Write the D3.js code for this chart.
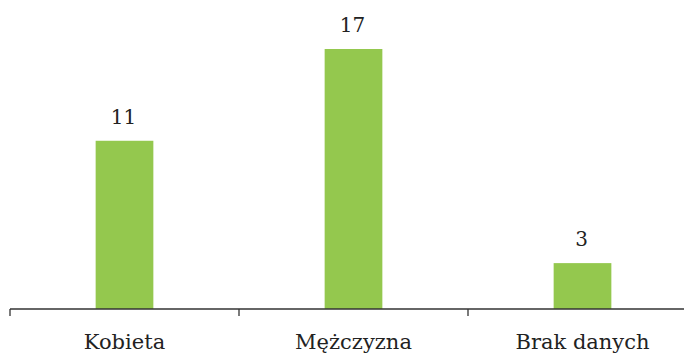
<!DOCTYPE html>
<html>
<head>
<meta charset="utf-8">
<script src="https://cdn.jsdelivr.net/npm/d3@7"></script>
<style>
  body { margin: 0; background: #fff; }
  svg text { font-family: "DejaVu Serif", serif; fill: #222; }
</style>
</head>
<body>
<div id="chart"></div>
<script>
const categories = ['Kobieta', 'Mężczyzna', 'Brak danych'];
const values = [11, 17, 3];

const width = 685;
const height = 353;
const baseline = 309;

const svg = d3.select('#chart')
    .append('svg')
    .attr('width', width)
    .attr('height', height);

const xScale = d3.scaleBand()
    .domain(categories)
    .range([10, 697])
    .paddingInner(0.748)
    .paddingOuter(0.374);

const yScale = d3.scaleLinear()
    .domain([0, 17])
    .range([baseline, 49]);

const data = categories.map((c, i) => ({ name: c, value: values[i] }));

// bars
svg.selectAll('rect.bar')
    .data(data)
    .enter()
    .append('rect')
    .attr('class', 'bar')
    .attr('x', d => xScale(d.name))
    .attr('y', d => yScale(d.value))
    .attr('width', xScale.bandwidth())
    .attr('height', d => baseline - yScale(d.value))
    .attr('fill', '#94c84e');

// value labels
svg.selectAll('text.value')
    .data(data)
    .enter()
    .append('text')
    .attr('class', 'value')
    .attr('x', d => xScale(d.name) + xScale.bandwidth() / 2 - 1)
    .attr('y', d => yScale(d.value) - 17)
    .attr('text-anchor', 'middle')
    .style('font-size', '20px')
    .text(d => d.value);

// axis line
svg.append('line')
    .attr('x1', 10)
    .attr('x2', 684)
    .attr('y1', baseline)
    .attr('y2', baseline)
    .attr('stroke', '#333')
    .attr('stroke-width', 1.5);

// boundary ticks
const gap = (xScale.step() - xScale.bandwidth()) / 2;
svg.selectAll('line.tick')
    .data(categories)
    .enter()
    .append('line')
    .attr('class', 'tick')
    .attr('x1', d => xScale(d) - gap)
    .attr('x2', d => xScale(d) - gap)
    .attr('y1', baseline)
    .attr('y2', baseline + 7)
    .attr('stroke', '#333')
    .attr('stroke-width', 1.3);

// category labels
const xAxis = d3.axisBottom(xScale).tickSize(0).tickPadding(0);
const axisG = svg.append('g')
    .attr('transform', 'translate(0,' + baseline + ')')
    .attr('font-family', '"DejaVu Serif", serif')
    .call(xAxis);
axisG.select('.domain').remove();
axisG.selectAll('text')
    .attr('dy', null)
    .attr('y', 40)
    .attr('font-size', 21)
    .style('font-family', '"DejaVu Serif", serif')
    .style('fill', '#222');
</script>
</body>
</html>
